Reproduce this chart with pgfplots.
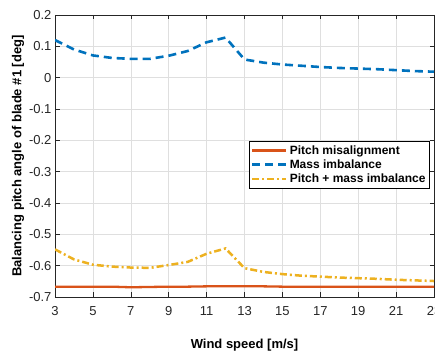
\documentclass[border=0pt]{standalone}
\usepackage{pgfplots}
\pgfplotsset{compat=1.18}
\usepackage{fontspec}
\setmainfont{Liberation Sans}
\definecolor{mred}{rgb}{0.85,0.325,0.098}
\definecolor{mblue}{rgb}{0,0.447,0.741}
\definecolor{myel}{rgb}{0.929,0.694,0.125}
\definecolor{mgray}{rgb}{0.15,0.15,0.15}
\begin{document}
\begin{tikzpicture}[x=1pt,y=1pt]
\useasboundingbox (0,0) rectangle (435,352);
\begin{axis}[
  at={(55pt,55pt)}, anchor=south west,
  scale only axis, width=379pt, height=282pt,
  xmin=3, xmax=23, ymin=-0.7, ymax=0.2,
  xtick={3,5,...,23}, ytick={-0.7,-0.6,...,0.2},
  yticklabel style={/pgf/number format/fixed,/pgf/number format/precision=1},
  /pgf/number format/assume math mode=true,
  tick label style={font=\fontsize{13}{15}\selectfont, text=mgray},
  xticklabel style={yshift=-6pt},
  xlabel={\textbf{Wind speed [m/s]}}, ylabel={\textbf{Balancing pitch angle of blade \#1 [deg]}},
  label style={font=\fontsize{13}{15}\selectfont},
  xlabel style={yshift=-16pt}, ylabel style={yshift=-2pt},
  grid=major, grid style={gray!25, line width=0.6pt},
  axis line style={mgray, line width=0.7pt},
  tick style={mgray, line width=0.6pt},
  tick align=inside, major tick length=4.5pt,
  legend style={at={(0.989,0.553)}, anchor=north east, font=\bfseries\fontsize{12}{14}\selectfont,
    draw=black, line width=0.7pt, inner sep=2pt, row sep=0pt},
  legend cell align=left,
  legend image code/.code={\draw[#1] (0pt,0pt) -- (34pt,0pt);},
]
\addplot[mred, line width=2.3pt] coordinates {
(3,-0.667)(4,-0.667)(5,-0.667)(6,-0.667)(7,-0.669)(8,-0.668)(9,-0.667)(10,-0.667)(11,-0.666)(12,-0.666)(13,-0.666)(14,-0.666)(15,-0.667)(16,-0.667)(17,-0.667)(18,-0.667)(19,-0.667)(20,-0.667)(21,-0.667)(22,-0.667)(23,-0.667)};
\addlegendentry{Pitch misalignment}
\addplot[mblue, line width=2.6pt, dash pattern=on 8pt off 5pt] coordinates {
(3,0.120)(4,0.090)(5,0.071)(6,0.063)(7,0.060)(8,0.060)(9,0.070)(10,0.085)(11,0.113)(12,0.128)(13,0.058)(14,0.048)(15,0.042)(16,0.038)(17,0.034)(18,0.031)(19,0.029)(20,0.027)(21,0.024)(22,0.021)(23,0.019)};
\addlegendentry{Mass imbalance}
\addplot[myel, line width=2.5pt, dash pattern=on 7pt off 3pt on 2pt off 3pt] coordinates {
(3,-0.548)(4,-0.580)(5,-0.597)(6,-0.603)(7,-0.606)(8,-0.607)(9,-0.598)(10,-0.588)(11,-0.562)(12,-0.545)(13,-0.608)(14,-0.620)(15,-0.627)(16,-0.632)(17,-0.635)(18,-0.638)(19,-0.640)(20,-0.642)(21,-0.645)(22,-0.647)(23,-0.649)};
\addlegendentry{Pitch + mass imbalance}
\end{axis}
\end{tikzpicture}
\end{document}
